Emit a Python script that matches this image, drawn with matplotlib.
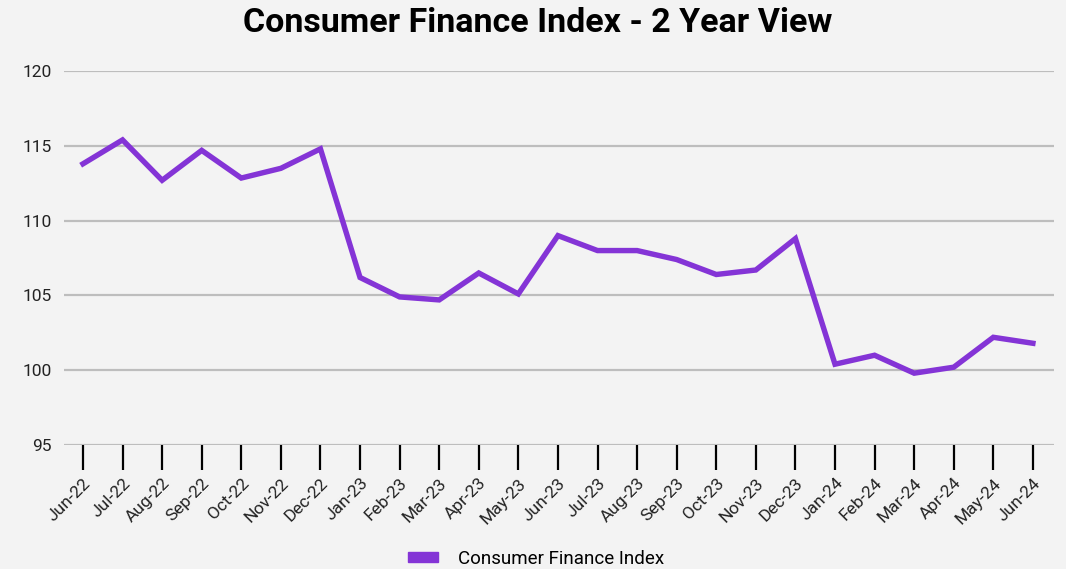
#!/usr/bin/env python3
"""Consumer Finance Index, two-year line chart."""

import matplotlib
matplotlib.use("Agg")
import matplotlib.pyplot as plt
from matplotlib.patches import Patch

months = [
    "Jun-22", "Jul-22", "Aug-22", "Sep-22", "Oct-22", "Nov-22", "Dec-22",
    "Jan-23", "Feb-23", "Mar-23", "Apr-23", "May-23", "Jun-23", "Jul-23",
    "Aug-23", "Sep-23", "Oct-23", "Nov-23", "Dec-23", "Jan-24", "Feb-24",
    "Mar-24", "Apr-24", "May-24", "Jun-24",
]
index_values = [
    113.8, 115.4, 112.7, 114.7, 112.85, 113.5, 114.8,
    106.2, 104.9, 104.7, 106.5, 105.1, 109.0, 108.0,
    108.0, 107.4, 106.4, 106.7, 108.8, 100.4, 101.0,
    99.8, 100.2, 102.2, 101.8,
]
y_ticks = [95, 100, 105, 110, 115, 120]

BG = "#f3f3f3"
PURPLE = "#8434d6"

plt.rcParams["font.family"] = ["Roboto", "DejaVu Sans"]

fig = plt.figure(figsize=(10.66, 5.69), dpi=100, facecolor=BG)
ax = fig.add_axes([0.060, 0.218, 0.929, 0.657], facecolor=BG)

x = list(range(len(months)))
ax.plot(x, index_values, color=PURPLE, lw=3.9, solid_joinstyle="miter", zorder=3)

ax.set_ylim(95, 120)
ax.set_xlim(-0.48, 24.54)
ax.set_yticks(y_ticks)
ax.set_yticklabels([str(v) for v in y_ticks], fontsize=12.5, color="#222222")
ax.set_xticks(x)
ax.set_xticklabels(months, rotation=45, ha="right", rotation_mode="anchor",
                   fontsize=12.5, color="#222222")
ax.tick_params(axis="x", length=18, width=1.6, color="black", pad=4)
ax.tick_params(axis="y", length=0, pad=9)

ax.grid(axis="y", color="#bdbdbd", lw=1.6, zorder=0)
for side in ("top", "right", "left", "bottom"):
    ax.spines[side].set_visible(False)

fig.text(0.504, 0.960, "Consumer Finance Index - 2 Year View",
         ha="center", va="center", fontsize=24.5, fontweight="bold")

fig.legend(handles=[Patch(color=PURPLE, label="Consumer Finance Index")],
           loc="center", bbox_to_anchor=(0.503, 0.018), frameon=False,
           fontsize=13.5, handlelength=1.6, handleheight=0.45, handletextpad=1.1)

fig.savefig("out.png", dpi=100, facecolor=BG)
